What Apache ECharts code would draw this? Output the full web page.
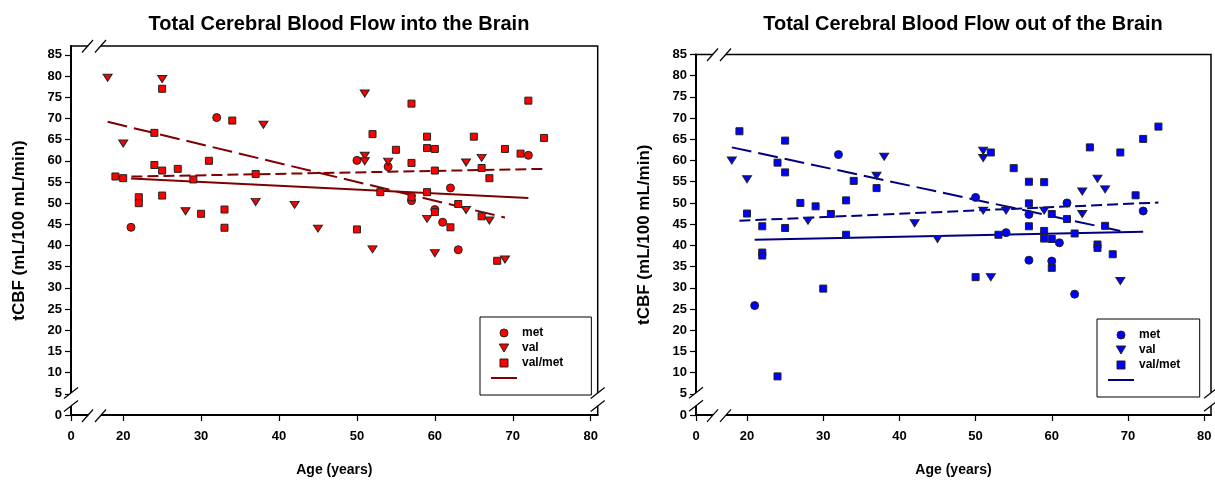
<!DOCTYPE html>
<html>
<head>
<meta charset="utf-8">
<script src="https://cdn.jsdelivr.net/npm/echarts@6/dist/echarts.min.js"></script>
<style>html,body{margin:0;padding:0;background:#fff}#c{width:1215px;height:482px}</style>
</head>
<body>
<div id="c"></div>
<script>
// ---------- DATA ----------
const titles = ['Total Cerebral Blood Flow into the Brain', 'Total Cerebral Blood Flow out of the Brain'];
const yName = 'tCBF (mL/100 mL/min)';
const xName = 'Age (years)';
const seriesNames = ['met', 'val', 'val/met'];
const xTickValues = [20, 30, 40, 50, 60, 70, 80];
const xBreakLabel = '0';
const yTickValues = [0, 5, 10, 15, 20, 25, 30, 35, 40, 45, 50, 55, 60, 65, 70, 75, 80, 85];

// Panel 1: into the brain
const inMet = [[21,44.3],[32,70.2],[50,60.1],[54,58.6],[57,50.6],[60,48.5],[61,45.5],[62,53.6],[63,39.0],[72,61.3]];
const inVal = [[18,79.6],[25,79.3],[38,68.5],[20,64.1],[28,48.1],[37,50.3],[42,49.6],[45,44.0],[51,75.9],[51,61.2],[51,59.9],[54,59.8],[64,59.6],[66,60.7],[64,48.4],[59,46.3],[67,45.9],[52,39.1],[60,38.2],[69,36.7]];
const inValMet = [[25,77.0],[34,69.5],[24,66.6],[24,59.0],[25,57.7],[27,58.1],[31,60.0],[19,56.3],[20,55.9],[29,55.6],[37,56.9],[22,51.4],[22,50.0],[25,51.8],[30,47.5],[33,48.5],[33,44.2],[57,73.5],[72,74.2],[52,66.3],[59,65.7],[65,65.7],[74,65.4],[55,62.6],[59,63.0],[60,62.8],[69,62.8],[71,61.7],[57,59.5],[66,58.3],[60,57.7],[67,55.9],[53,52.6],[57,51.4],[59,52.6],[63,49.8],[60,47.9],[66,46.9],[62,44.3],[50,43.8],[68,36.4]];
const inFitMet = [[21,55.8],[72,51.2]];
const inFitVal = [[18,69.2],[69,46.6]];
const inFitValMet = [[19,56.2],[74,58.1]];

// Panel 2: out of the brain
const outMet = [[21,25.8],[32,61.4],[50,51.3],[54,43.0],[57,47.3],[57,36.5],[60,36.3],[61,40.6],[62,50.0],[63,28.5],[72,48.1]];
const outVal = [[18,60.0],[20,55.6],[38,60.9],[37,56.4],[28,45.8],[42,45.2],[45,41.5],[51,62.3],[51,60.6],[66,55.7],[67,53.2],[64,52.7],[51,48.2],[54,48.2],[59,48.2],[64,47.4],[52,32.5],[69,31.6]];
const outValMet = [[19,66.9],[25,64.7],[24,59.5],[25,57.2],[34,55.2],[37,53.5],[27,50.0],[29,49.2],[33,50.6],[31,47.4],[20,47.5],[22,44.5],[25,44.1],[33,42.5],[22,38.3],[22,37.6],[30,29.8],[24,9.1],[74,68.0],[72,65.1],[65,63.1],[69,61.9],[52,61.9],[55,58.2],[57,55.0],[59,54.9],[71,51.8],[57,49.9],[60,47.4],[62,46.2],[67,44.6],[57,44.5],[59,43.4],[53,42.5],[63,42.8],[59,41.6],[60,41.5],[66,40.2],[66,39.4],[68,37.9],[60,34.7],[50,32.5]];
const outFitMet = [[21,41.3],[72,43.2]];
const outFitVal = [[18,63.1],[69,43.4]];
const outFitValMet = [[19,45.8],[74,50.1]];

// ---------- LAYOUT / STYLE ----------
const FONT = '"Liberation Sans", Arial, sans-serif';
const X_MIN = 13.3, X_MAX = 80.9;
const panels = [
  {grid:{left:71, top:46, width:526.7, height:369.5}, yMax:87.1, fill:'#ff0000', line:'#7f0000',
   data:[inMet,inVal,inValMet], fits:[inFitMet,inFitVal,inFitValMet], suffix:'', legend:{left:480, top:317, padding:[10,28,11,11]}, titleX:334},
  {grid:{left:696, top:54.5, width:515, height:360.8}, yMax:85, fill:'#0000ff', line:'#00007f',
   data:[outMet,outVal,outValMet], fits:[outFitMet,outFitVal,outFitValMet], suffix:' ', legend:{left:1097, top:319, padding:[10,16,11,11]}, titleX:958}
];
const triDown = 'path://M0,0 L10,0 L5,8 Z';
const square = 'path://M0,0 L10,0 L10,10 L0,10 Z';
const lineIcon = 'path://M0,0 L26,0 L26,2 L0,2 Z';
const symbols = ['circle', triDown, 'rect'];
const legendIcons = ['circle', 'path://M0,0 L10,0 L5,8.5 Z', square];
const symSizes = [8, [9,7], 7];
const dashTypes = ['solid', [20,7], [11,5]];

const grid = [], xAxis = [], yAxis = [], series = [], title = [], legend = [], graphic = [];
const xCustom = [X_MIN].concat(xTickValues);

panels.forEach((p, i) => {
  grid.push(Object.assign({show:true, borderColor:'#000', borderWidth:1.5, backgroundColor:'#fff'}, p.grid));
  title.push({text: titles[i], left: p.titleX, top: 9, textAlign: 'center',
    textStyle:{fontFamily:FONT, fontSize:20, fontWeight:'bold', color:'#000'}});
  xAxis.push({type:'value', gridIndex:i, min:X_MIN, max:X_MAX, name:xName, nameLocation:'middle', nameGap:48,
    nameTextStyle:{fontFamily:FONT, fontSize:14, fontWeight:'bold', color:'#000'},
    axisLine:{onZero:false, lineStyle:{color:'#000', width:2}},
    axisTick:{customValues:xCustom, length:6, lineStyle:{color:'#000', width:1.2}},
    axisLabel:{customValues:xCustom, margin:15, fontFamily:FONT, fontSize:13, fontWeight:'bold', color:'#000',
      formatter: v => (v < 15 ? xBreakLabel : String(v))},
    splitLine:{show:false}});
  yAxis.push({type:'value', gridIndex:i, min:0, max:p.yMax, name:yName, nameLocation:'middle', nameGap:43,
    nameTextStyle:{fontFamily:FONT, fontSize:17, fontWeight:'bold', color:'#000'},
    axisLine:{onZero:false, lineStyle:{color:'#000', width:2}},
    axisTick:{customValues:yTickValues, length:6, lineStyle:{color:'#000', width:1.2}},
    axisLabel:{customValues:yTickValues, margin:9, fontFamily:FONT, fontSize:13, fontWeight:'bold', color:'#000'},
    splitLine:{show:false}});
  p.fits.forEach((f, k) => {
    series.push({type:'line', name: k === 0 ? ' ' + p.suffix : '_fit' + i + k, xAxisIndex:i, yAxisIndex:i, data:f,
      symbol:'none', silent:true, z:2, lineStyle:{color:p.line, width:2, type:dashTypes[k]}, itemStyle:{color:p.line}});
  });
  p.data.forEach((d, k) => {
    series.push({type:'scatter', name: seriesNames[k] + p.suffix, xAxisIndex:i, yAxisIndex:i, data:d,
      symbol:symbols[k], symbolSize:symSizes[k], z:3,
      itemStyle:{color:p.fill, borderColor:'#222', borderWidth:1, opacity:1}});
  });
  const items = seriesNames.map((n, k) => ({name: n + p.suffix, icon: legendIcons[k],
    itemStyle:{color:p.fill, borderColor:'#222', borderWidth:1}}));
  items.push({name: ' ' + p.suffix, icon: lineIcon, itemStyle:{color:p.line, borderWidth:0}});
  legend.push({orient:'vertical', left:p.legend.left, top:p.legend.top, padding:p.legend.padding,
    borderColor:'#000', borderWidth:1, backgroundColor:'#fff', itemWidth:26, itemHeight:8, itemGap:3,
    selectedMode:false, symbolKeepAspect:true,
    textStyle:{fontFamily:FONT, fontSize:12, fontWeight:'bold', color:'#000', padding:[0,0,0,0]},
    data: items});

  // axis-break decorations
  const g = p.grid, L = g.left, R = g.left + g.width, T = g.top, B = g.top + g.height;
  const vBreak = (ax, cy) => {
    graphic.push({type:'polygon', z:100, shape:{points:[[ax-7,cy+0],[ax+7,cy-11],[ax+7,cy+2],[ax-7,cy+13]]}, style:{fill:'#fff'}});
    graphic.push({type:'polyline', z:101, shape:{points:[[ax-7,cy+0],[ax+7,cy-11]]}, style:{stroke:'#000', lineWidth:1.2}});
    graphic.push({type:'polyline', z:101, shape:{points:[[ax-7,cy+13],[ax+7,cy+2]]}, style:{stroke:'#000', lineWidth:1.2}});
  };
  const hBreak = (cx, ay) => {
    graphic.push({type:'polygon', z:100, shape:{points:[[cx-12,ay+6.5],[cx-1,ay-6],[cx+12,ay-6],[cx+1,ay+6.5]]}, style:{fill:'#fff'}});
    graphic.push({type:'polyline', z:101, shape:{points:[[cx-12,ay+6.5],[cx-1,ay-6]]}, style:{stroke:'#000', lineWidth:1.2}});
    graphic.push({type:'polyline', z:101, shape:{points:[[cx+1,ay+6.5],[cx+12,ay-6]]}, style:{stroke:'#000', lineWidth:1.2}});
  };
  vBreak(L, B - 17);
  vBreak(R, B - 17);
  hBreak(L + 23, B);
  hBreak(L + 23, T);
});

const chart = echarts.init(document.getElementById('c'), null, {renderer:'canvas'});
chart.setOption({animation:false, backgroundColor:'#fff', title, grid, xAxis, yAxis, series, legend, graphic});
</script>
</body>
</html>
